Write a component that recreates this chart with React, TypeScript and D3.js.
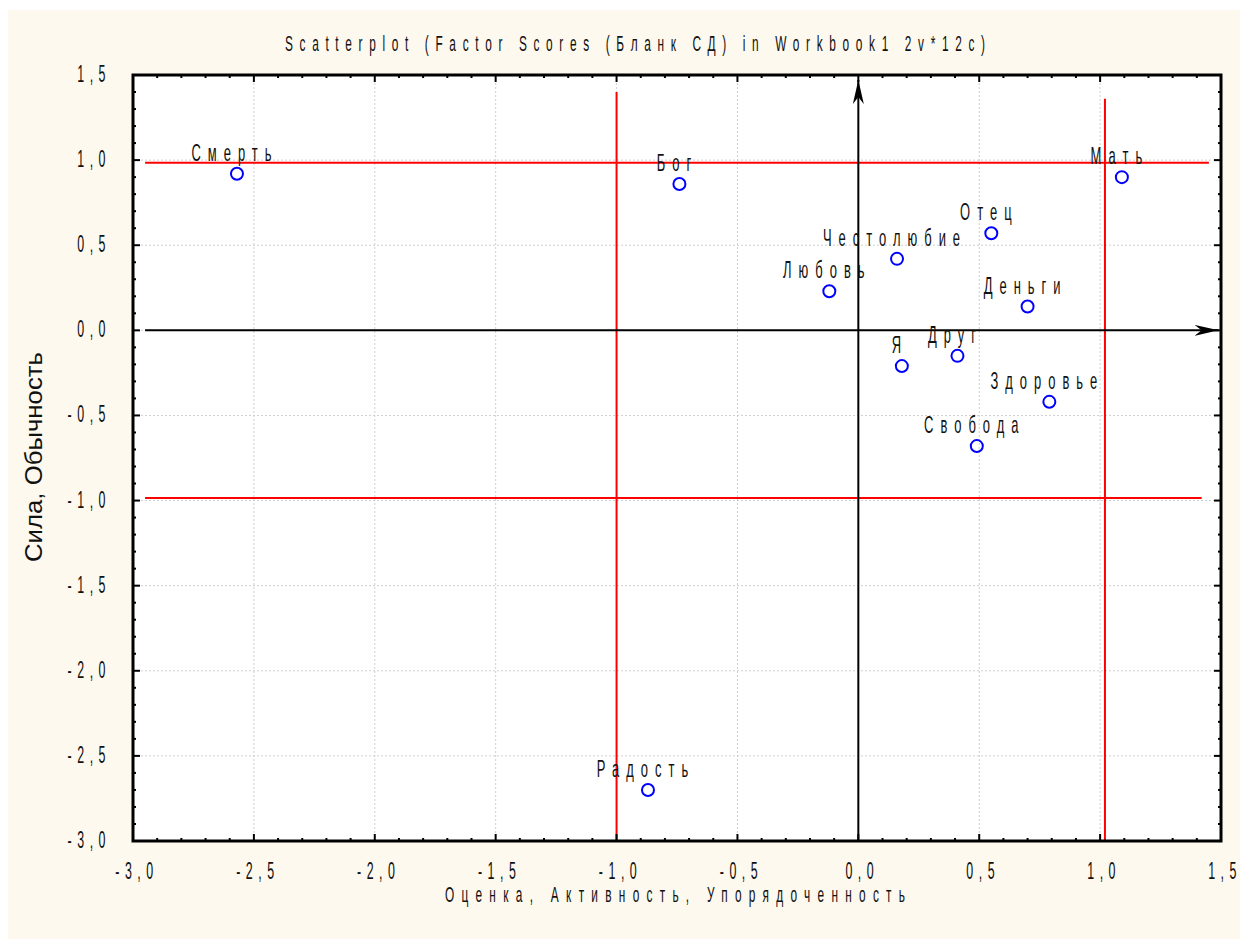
import React, { useEffect, useRef } from "react";
import * as d3 from "d3";

// factor scores
const labels = ["Смерть", "Бог", "Мать", "Отец", "Честолюбие", "Любовь", "Деньги", "Я", "Друг", "Здоровье", "Свобода", "Радость"];
const xValues = [-2.57, -0.74, 1.09, 0.55, 0.16, -0.12, 0.7, 0.18, 0.41, 0.79, 0.49, -0.87];
const yValues = [0.92, 0.86, 0.9, 0.57, 0.42, 0.23, 0.14, -0.21, -0.15, -0.42, -0.68, -2.7];

const tickValues = [-3, -2.5, -2, -1.5, -1, -0.5, 0, 0.5, 1, 1.5];

// red guide lines: [x1, y1, x2, y2] in data units
const redLines = [
  [-2.95, 0.985, 1.45, 0.985],
  [-2.95, -0.985, 1.42, -0.985],
  [-1.0, 1.4, -1.0, -3],
  [1.02, 1.36, 1.02, -3],
];

const title = "Scatterplot (Factor Scores (Бланк СД) in Workbook1 2v*12c)";
const xTitle = "Оценка, Активность, Упорядоченность";
const yTitle = "Сила, Обычность";

const font = "'Liberation Sans', Arial, sans-serif";
const SX = 0.54; // squeeze to mimic the condensed face

export default function App() {
  const ref = useRef<SVGSVGElement>(null);

  useEffect(() => {
    const svg = d3.select(ref.current);
    svg.selectAll("*").remove();

    const W = 1240, H = 931;
    const margin = { top: 67, right: 27, bottom: 98, left: 125 };
    const x0 = margin.left, x1 = W - margin.right;
    const y0 = margin.top, y1 = H - margin.bottom;

    svg.append("rect").attr("x", 0).attr("y", 2).attr("width", W).attr("height", H - 2).attr("fill", "#fdf9ef");
    svg.append("rect").attr("x", x0).attr("y", y0).attr("width", x1 - x0).attr("height", y1 - y0).attr("fill", "#fff");

    const x = d3.scaleLinear().domain([-3, 1.5]).range([x0, x1]);
    const y = d3.scaleLinear().domain([-3, 1.5]).range([y1, y0]);
    const fmt = (v: number) => d3.format(".1f")(v).replace(".", ",").replace("−", "-");

    // condensed, letter-spaced text
    const narrowText = (
      g: d3.Selection<any, any, any, any>, px: number, py: number, s: string,
      anchor: string, size: number, spacing: number, width?: number
    ) => {
      const t = g.append("text")
        .attr("transform", `translate(${px},${py}) scale(${SX},1)`)
        .attr("text-anchor", anchor).attr("font-family", font).attr("font-size", size)
        .attr("fill", "#111")
        .text(s);
      if (width) t.attr("textLength", width / SX).attr("lengthAdjust", "spacing");
      else t.attr("letter-spacing", spacing / SX);
      return t;
    };

    // grid
    const grid = svg.append("g").attr("stroke", "#cfcfcf").attr("stroke-dasharray", "2,2").attr("stroke-width", 1);
    tickValues.slice(1, -1).forEach((t) => {
      grid.append("line").attr("x1", x(t)).attr("x2", x(t)).attr("y1", y0).attr("y2", y1);
      grid.append("line").attr("y1", y(t)).attr("y2", y(t)).attr("x1", x0).attr("x2", x1);
    });

    // red lines
    svg.append("g").selectAll("line").data(redLines).join("line")
      .attr("x1", (d) => x(d[0])).attr("y1", (d) => y(d[1]))
      .attr("x2", (d) => x(d[2])).attr("y2", (d) => y(d[3]))
      .attr("stroke", "#ff0000").attr("stroke-width", 2);

    // black axes with arrows
    svg.append("defs").append("marker")
      .attr("id", "arr").attr("viewBox", "0 0 24 12").attr("refX", 24).attr("refY", 6)
      .attr("markerWidth", 24).attr("markerHeight", 12).attr("markerUnits", "userSpaceOnUse")
      .attr("orient", "auto")
      .append("path").attr("d", "M0,0.5 L24,6 L0,11.5 L7,6 Z").attr("fill", "#000");
    svg.append("line").attr("x1", x(-2.95)).attr("x2", x(1.49)).attr("y1", y(0)).attr("y2", y(0))
      .attr("stroke", "#000").attr("stroke-width", 2).attr("marker-end", "url(#arr)");
    svg.append("line").attr("x1", x(0)).attr("x2", x(0)).attr("y1", y1).attr("y2", y(1.47))
      .attr("stroke", "#000").attr("stroke-width", 2).attr("marker-end", "url(#arr)");

    // ticks inside the frame
    const minor = d3.range(-30, 16).map((i) => i / 10);
    const tk = svg.append("g").attr("stroke", "#000").attr("stroke-width", 2);
    minor.forEach((t, i) => {
      const len = i % 5 === 0 ? 7 : 3;
      tk.append("line").attr("x1", x(t)).attr("x2", x(t)).attr("y1", y1).attr("y2", y1 - len);
      tk.append("line").attr("x1", x(t)).attr("x2", x(t)).attr("y1", y0).attr("y2", y0 + len);
      tk.append("line").attr("y1", y(t)).attr("y2", y(t)).attr("x1", x0).attr("x2", x0 + len);
      tk.append("line").attr("y1", y(t)).attr("y2", y(t)).attr("x1", x1).attr("x2", x1 - len);
    });

    // frame
    svg.append("rect").attr("x", x0).attr("y", y0).attr("width", x1 - x0).attr("height", y1 - y0)
      .attr("fill", "none").attr("stroke", "#000").attr("stroke-width", 3);

    // tick labels
    const tl = svg.append("g");
    tickValues.forEach((t) => {
      narrowText(tl, x(t) + 4, y1 + 38, fmt(t), "middle", 23, 5.5);
      narrowText(tl, x0 - 22, y(t) + 7, fmt(t), "end", 23, 5.5);
    });

    // points
    const pts = labels.map((l, i) => ({ l, vx: xValues[i], vy: yValues[i] }));
    svg.append("g").selectAll("circle").data(pts).join("circle")
      .attr("cx", (d) => x(d.vx)).attr("cy", (d) => y(d.vy)).attr("r", 6)
      .attr("fill", "none").attr("stroke", "#0000ff").attr("stroke-width", 2);
    const pl = svg.append("g");
    pts.forEach((d) => narrowText(pl, x(d.vx) - 2, y(d.vy) - 13, d.l, "middle", 24, 7));

    // titles
    narrowText(svg.append("g"), 627, 43, title, "middle", 22, 0, 700);
    narrowText(svg.append("g"), 667, 894, xTitle, "middle", 22, 0, 460);
    svg.append("text").attr("transform", `translate(34,${449}) rotate(-90)`).attr("text-anchor", "middle")
      .attr("font-family", font).attr("font-size", 24).attr("fill", "#111")
      .attr("textLength", 210).attr("lengthAdjust", "spacingAndGlyphs")
      .text(yTitle);
  }, []);

  return <svg ref={ref} width={1240} height={931} style={{ display: "block" }} />;
}
